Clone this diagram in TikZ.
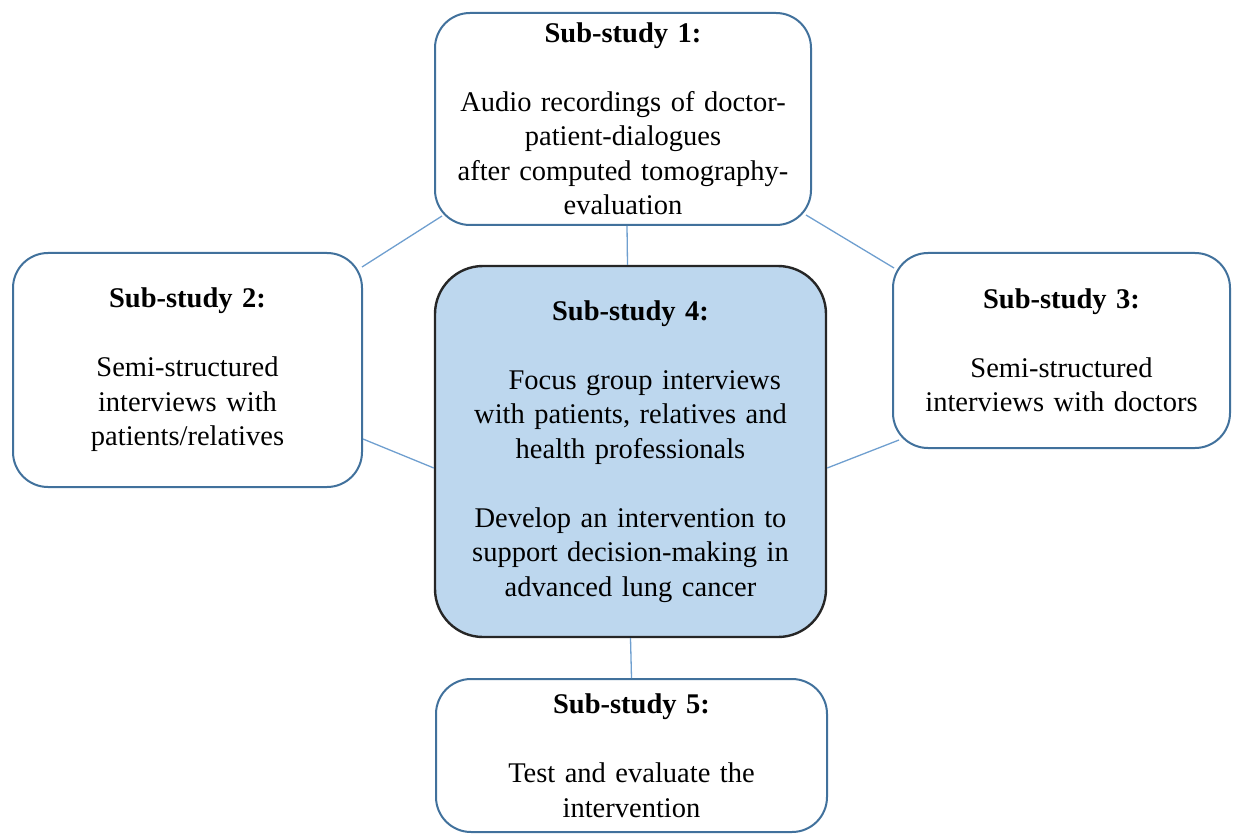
\documentclass[tikz,border=0pt]{standalone}
\usepackage{fontspec}
\setmainfont{Liberation Serif}
\usetikzlibrary{calc,positioning}
\definecolor{boxline}{HTML}{41719C}
\definecolor{corefill}{HTML}{BDD7EE}
\definecolor{linkline}{HTML}{6F9FCF}
\tikzset{
  study/.style={draw=boxline, line width=2pt, fill=white, rounded corners=35pt,
    align=center, inner sep=0pt, font=\fontsize{28.5}{34.5}\selectfont},
  core/.style={study, draw=black!85, line width=2.4pt, fill=corefill, rounded corners=48pt},
  link/.style={draw=linkline, line width=1.3pt}
}

\begin{document}
\begin{tikzpicture}[x=1pt, y=-1pt]
\useasboundingbox (0,0) rectangle (1233,834);

% the five sub-studies (units are pixels of the layout)
\node[study, minimum width=376pt, minimum height=212pt, text width=370pt] (s1) at (623,119)
  {\textbf{Sub-study 1:}\\[34.5pt]Audio recordings of doctor-\\patient-dialogues\\after computed tomography-\\evaluation};
\node[study, minimum width=349pt, minimum height=234pt, text width=343pt] (s2) at (187.5,370)
  {\textbf{Sub-study 2:}\\[34.5pt]Semi-structured\\interviews with\\patients/relatives};
\node[study, minimum width=337pt, minimum height=195pt, text width=331pt] (s3) at (1061.5,350.5)
  {\textbf{Sub-study 3:}\\[34.5pt]Semi-structured\\interviews with doctors};
\node[core, minimum width=391pt, minimum height=371pt, text width=385pt] (s4) at (630.5,451.5)
  {\textbf{Sub-study 4:}\\[34.5pt]\hspace*{1em}Focus group interviews\\with patients, relatives and\\health professionals\\[34.5pt]Develop an intervention to\\support decision-making in\\advanced lung cancer};
\node[study, minimum width=391pt, minimum height=153pt, text width=385pt] (s5) at (631.5,755.5)
  {\textbf{Sub-study 5:}\\[34.5pt]Test and evaluate the\\intervention};

% thin links between the boxes
\draw[link] ($(s2.north east)+(-1,15)$) -- ($(s1.south west)+(8,-10)$);
\draw[link] ($(s1.south east)+(-6,-11)$) -- ($(s3.north west)+(2,16)$);
\draw[link] ($(s1.south)+(4,0)$) -- ($(s4.north)+(-3,0)$);
\draw[link] ($(s2.east)+(0,69)$) -- ($(s4.west)+(0,16.5)$);
\draw[link] ($(s4.east)+(0,16.5)$) -- ($(s3.south west)+(7,-9)$);
\draw[link] (s4.south) -- (s5.north);
\end{tikzpicture}
\end{document}
